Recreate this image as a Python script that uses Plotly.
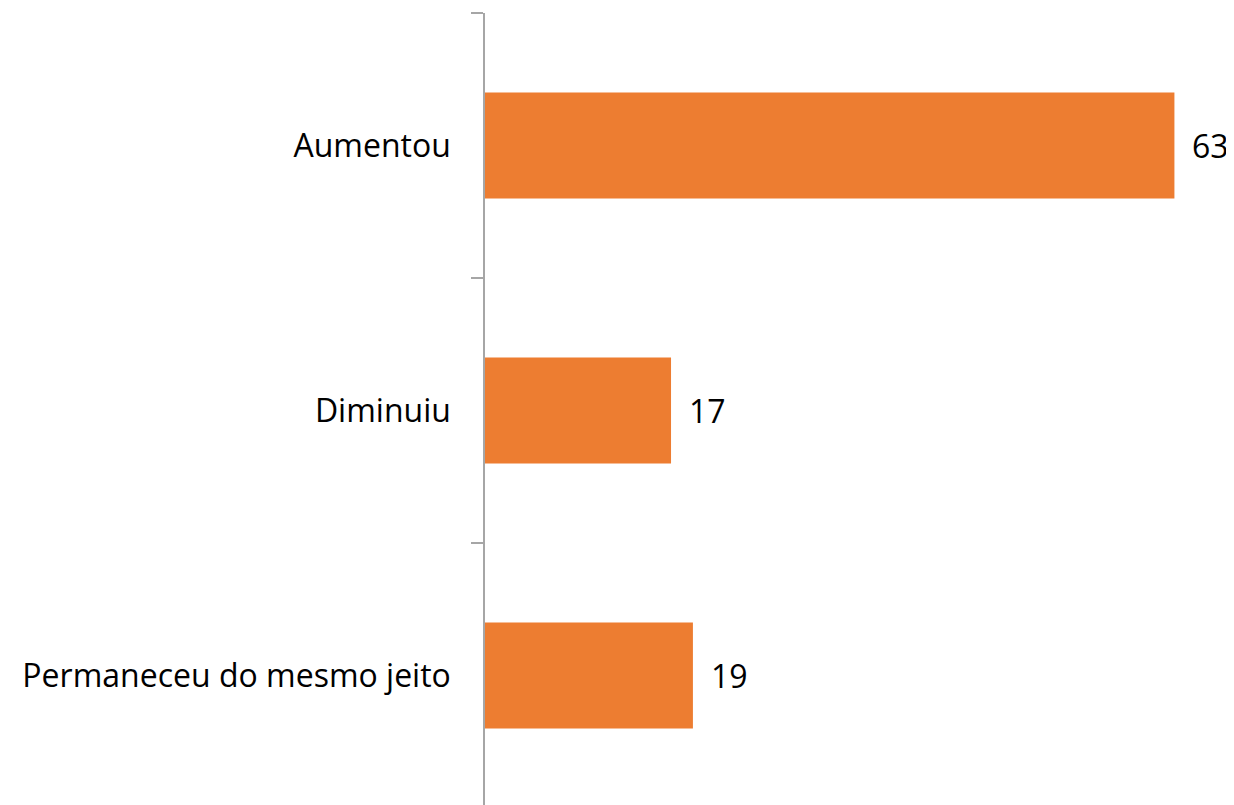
import plotly.graph_objects as go

categories = ["Aumentou", "Diminuiu", "Permaneceu do mesmo jeito"]
values = [63, 17, 19]
bar_color = "#ED7D31"
font_family = "Open Sans"

fig = go.Figure()
fig.add_trace(go.Bar(
    y=categories,
    x=values,
    orientation="h",
    marker=dict(color=bar_color, line=dict(width=0)),
    width=0.4,
    hoverinfo="skip",
))

for c, v in zip(categories, values):
    fig.add_annotation(
        x=v, y=c, text=str(v), showarrow=False,
        xanchor="left", yanchor="middle", xshift=16,
        font=dict(family=font_family, size=32, color="#000000"),
    )

fig.update_layout(
    width=1226, height=805,
    margin=dict(l=477, r=18, t=5, b=5),
    paper_bgcolor="white", plot_bgcolor="white",
    showlegend=False,
    font=dict(family=font_family, size=32, color="#000000"),
    xaxis=dict(range=[0, 66.8], visible=False, showgrid=False, zeroline=False),
    yaxis=dict(
        autorange="reversed",
        showline=True, linecolor="#a6a6a6", linewidth=1.5,
        ticks="outside", ticklen=12, tickcolor="#a6a6a6", tickwidth=1.5,
        tickson="boundaries",
        showgrid=False, zeroline=False,
        ticklabelstandoff=26,
        tickfont=dict(family=font_family, size=32, color="#000000"),
    ),
)

fig.write_html("out.html")
